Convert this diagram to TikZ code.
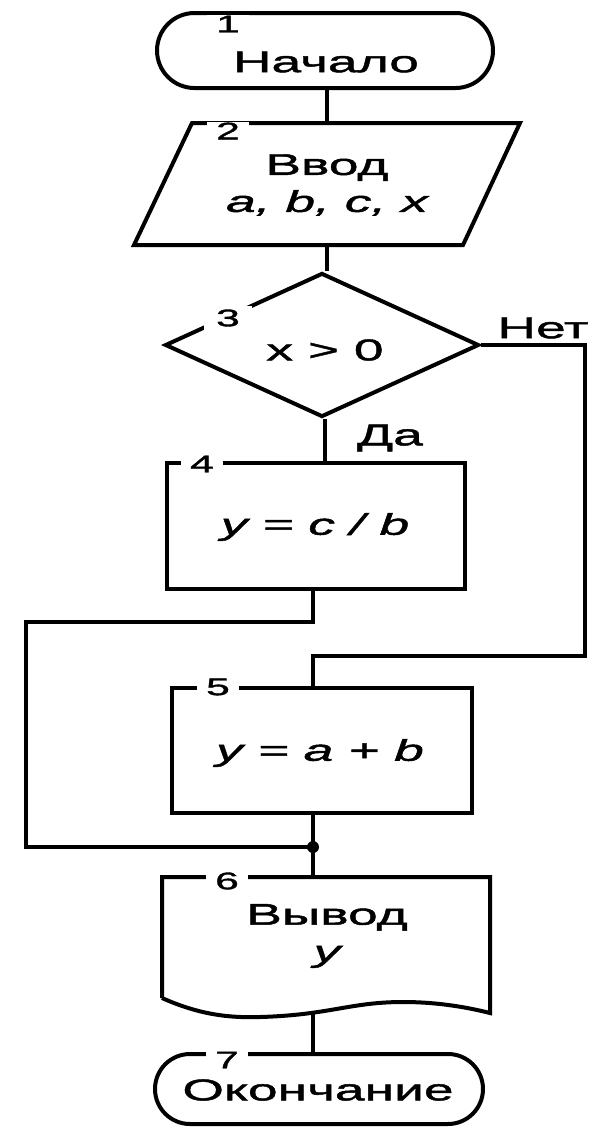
\documentclass[tikz,border=0pt]{standalone}
\usepackage{fontspec}
\setmainfont{Liberation Sans}
\newfontfamily\widefont[FakeStretch=1.78,FakeBold=1.5]{Liberation Sans}
\usetikzlibrary{shapes.geometric,shapes.misc,calc}
\begin{document}
\begin{tikzpicture}[x=1pt,y=-1pt,
  line/.style={line width=4pt, line join=miter},
  shapebox/.style={draw, line width=4pt, inner sep=0pt},
  txt/.style={font=\widefont\fontsize{30}{37}\selectfont, align=center, inner sep=0pt},
  numlab/.style={fill=white, inner xsep=9pt, inner ysep=1pt, font=\widefont\fontsize{24}{26}\selectfont},
  junct/.style={circle, fill=black, inner sep=0pt, minimum size=12pt}]
\useasboundingbox (0,0) rectangle (598,1128);
\fill[white] (0,0) rectangle (598,1128);

% 1 terminal
\node[shapebox, rounded rectangle, minimum width=336pt, minimum height=75pt] (t1) at (325,50.5) {};
\node[txt] (t1t) at (326,62) {Начало};
\node[numlab] (n1) at (228,24) {1};

% 2 parallelogram
\coordinate (p2tl) at (192,123);
\coordinate (p2tr) at (520,123);
\coordinate (p2br) at (463,245);
\coordinate (p2bl) at (134,245);
\draw[line] (p2tl) -- (p2tr) -- (p2br) -- (p2bl) -- cycle;
\node[inner sep=0pt, minimum width=330pt, minimum height=122pt] (p2) at (327,184) {};
\node[txt] (p2t) at (327,185) {Ввод\\\itshape a, b, c, x};
\node[numlab] (n2) at (228,131) {2};

% 3 decision
\node[shapebox, diamond, minimum width=314pt, minimum height=144pt] (d3) at (322,345) {};
\node[txt] (d3t) at (325,350) {x > 0};
\node[numlab, inner xsep=12pt, inner ysep=4pt] (n3) at (228,318) {3};
\node[txt] (no) at (543,328) {Нет};
\node[txt] (yes) at (390,438) {Да};

% 4 process
\node[shapebox, rectangle, minimum width=298pt, minimum height=126pt] (b4) at (316,526) {};
\node[txt] (b4t) at (315,527) {\itshape y = c / b};
\node[numlab] (n4) at (202,464) {4};

% 5 process
\node[shapebox, rectangle, minimum width=300pt, minimum height=125pt] (b5) at (322,750.5) {};
\node[txt] (b5t) at (320,753) {\itshape y = a + b};
\node[numlab] (n5) at (218,687) {5};

% 6 document
\node[inner sep=0pt, minimum width=328pt, minimum height=121pt] (b6) at (326,937.5) {};
\draw[line] (162,998) -- (162,877) -- (490,877) -- (490,1013)
  .. controls (470,1008) and (440,1002) .. (403,1002)
  .. controls (350,1002) and (330,1015) .. (260,1017)
  .. controls (230,1018) and (200,1015) .. (162,998);
\node[txt] (b6t) at (327,936) {Вывод\\\itshape y};
\node[numlab] (n6) at (227,881) {6};
\coordinate (w6) at (313,1013);

% 7 terminal
\node[shapebox, rounded rectangle, minimum width=328pt, minimum height=70pt] (t7) at (319,1089) {};
\node[txt] (t7t) at (318,1090) {Окончание};
\node[numlab] (n7) at (227,1060) {7};

% junction and helper points
\coordinate (j) at (313,847);
\coordinate (dy) at ($(d3.south)+(3,0)$);

% connectors
\draw[line] (t1.south -| p2) -- (p2.north);
\draw[line] (p2.south) -- (p2.south |- d3.north);
\draw[line] (dy) -- (dy |- b4.north);
\draw[line] (d3.east) -- (585,345) coordinate (r1) -- (585,656) coordinate (r2) -- (313,656) coordinate (r3) -- (r3 |- b5.north);
\draw[line] (b4.south -| j) -- (313,622) coordinate (l1) -- (26,622) coordinate (l2) -- (26,847) coordinate (l3) -- (j);
\draw[line] (b5.south -| j) -- (j) -- (j |- b6.north);
\draw[line] (w6) -- (w6 |- t7.north);
\node[junct] at (j) {};
\end{tikzpicture}
\end{document}
